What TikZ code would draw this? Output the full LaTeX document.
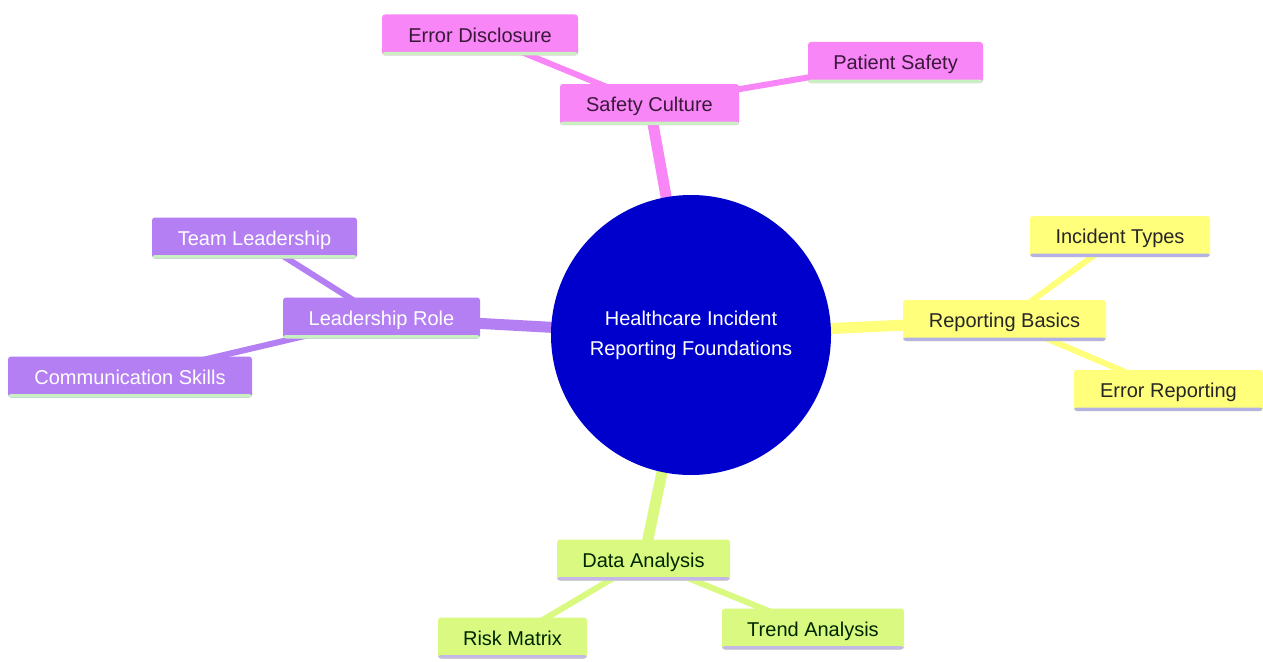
\documentclass[tikz,border=0pt]{standalone}
\usepackage{fontspec}
\setmainfont{Liberation Sans}
\usetikzlibrary{backgrounds}
\definecolor{pinkc}{HTML}{F886F6}
\definecolor{purplec}{HTML}{B47FF2}
\definecolor{yellowc}{HTML}{FFFF7C}
\definecolor{greenc}{HTML}{D9F981}
\definecolor{bluec}{HTML}{0000CD}
\definecolor{stripegreen}{HTML}{C8F0C0}
\definecolor{stripelav}{HTML}{B4B2E4}
\definecolor{stripelav2}{HTML}{C4B8E6}
\definecolor{pinktext}{HTML}{3A183A}
\tikzset{
  x=1pt, y=-1pt,
  leaf/.style 2 args={rectangle, rounded corners=3pt, inner sep=0pt,
    minimum height=41pt, fill=#1, font=\fontsize{20}{23}\selectfont, text depth=0pt,
    path picture={\fill[#2] (path picture bounding box.south west) rectangle ([yshift=3.5pt]path picture bounding box.south east);}},
  pinkbox/.style={leaf={pinkc}{stripegreen}, text=pinktext},
  purplebox/.style={leaf={purplec}{stripegreen}, text=white},
  yellowbox/.style={leaf={yellowc}{stripelav}, text=black!85},
  greenbox/.style={leaf={greenc}{stripelav2}, text=black!85!green},
  mainedge/.style={line width=11pt},
  subedge/.style={line width=6pt},
}
\begin{document}
\begin{tikzpicture}
\useasboundingbox (0,0) rectangle (1263,661);
% center
\node[circle, fill=bluec, minimum size=280pt, inner sep=0pt, text=white, align=center,
  font=\fontsize{20}{30}\selectfont] (center) at (691,335) {Healthcare Incident\\Reporting Foundations};
% safety culture
\node[pinkbox, minimum width=179pt] (safety) at (649.5,104.5) {Safety Culture};
\node[pinkbox, minimum width=196pt] (disclosure) at (480,35) {Error Disclosure};
\node[pinkbox, minimum width=175pt] (patient) at (895.5,62.5) {Patient Safety};
% leadership
\node[purplebox, minimum width=197pt] (leader) at (381.5,318) {Leadership Role};
\node[purplebox, minimum width=205pt] (team) at (254.5,238) {Team Leadership};
\node[purplebox, minimum width=244pt] (comm) at (130,377) {Communication Skills};
% reporting
\node[yellowbox, minimum width=203pt] (report) at (1004.5,320.5) {Reporting Basics};
\node[yellowbox, minimum width=180pt] (types) at (1120,236.5) {Incident Types};
\node[yellowbox, minimum width=189pt] (errrep) at (1168.5,390.5) {Error Reporting};
% data
\node[greenbox, minimum width=173pt] (data) at (643.5,560) {Data Analysis};
\node[greenbox, minimum width=149pt] (risk) at (512.5,638) {Risk Matrix};
\node[greenbox, minimum width=182pt] (trend) at (813,629) {Trend Analysis};
\begin{scope}[on background layer]
\fill[white] (0,0) rectangle (1263,661);
\draw[mainedge, pinkc] (center.center) -- (safety.center);
\draw[mainedge, purplec] (center.center) -- (leader.center);
\draw[mainedge, yellowc] (center.center) -- (report.center);
\draw[mainedge, greenc] (center.center) -- (data.center);
\draw[subedge, pinkc] (safety.center) -- (disclosure.center);
\draw[subedge, pinkc] (safety.center) -- (patient.center);
\draw[subedge, purplec] (leader.center) -- (team.center);
\draw[subedge, purplec] (leader.center) -- (comm.center);
\draw[subedge, yellowc] (report.center) -- (types.center);
\draw[subedge, yellowc] (report.center) -- (errrep.center);
\draw[subedge, greenc] (data.center) -- (risk.center);
\draw[subedge, greenc] (data.center) -- (trend.center);
\end{scope}
\end{tikzpicture}
\end{document}
